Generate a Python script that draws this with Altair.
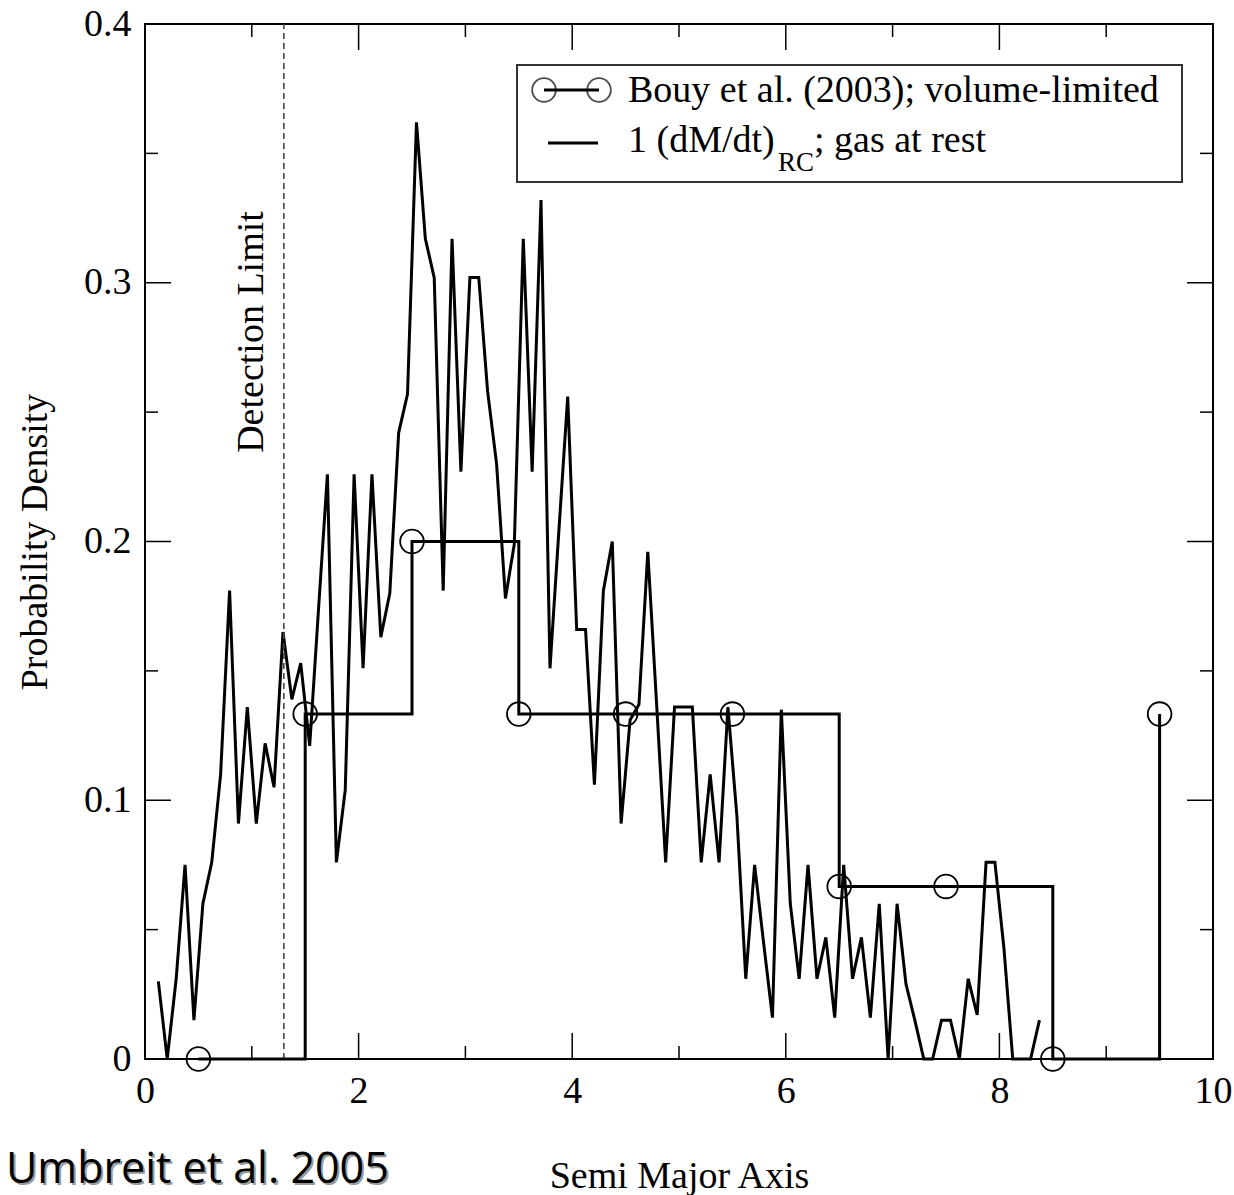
import altair as alt
import pandas as pd

# ---- data ----
MODEL_X = [0.125, 0.208, 0.292, 0.375, 0.458, 0.542, 0.625, 0.708, 0.792, 0.875,
           0.958, 1.042, 1.125, 1.208, 1.292, 1.375, 1.458, 1.542, 1.625, 1.708,
           1.792, 1.875, 1.958, 2.042, 2.125, 2.208, 2.292, 2.375, 2.458, 2.542,
           2.625, 2.708, 2.792, 2.875, 2.958, 3.042, 3.125, 3.208, 3.292, 3.375,
           3.458, 3.542, 3.625, 3.708, 3.792, 3.875, 3.958, 4.042, 4.125, 4.208,
           4.292, 4.375, 4.458, 4.542, 4.625, 4.708, 4.792, 4.875, 4.958, 5.042,
           5.125, 5.208, 5.292, 5.375, 5.458, 5.542, 5.625, 5.708, 5.792, 5.875,
           5.958, 6.042, 6.125, 6.208, 6.292, 6.375, 6.458, 6.542, 6.625, 6.708,
           6.792, 6.875, 6.958, 7.042, 7.125, 7.208, 7.292, 7.375, 7.458, 7.542,
           7.625, 7.708, 7.792, 7.875, 7.958, 8.042, 8.125, 8.208, 8.292, 8.375]
MODEL_Y = [0.030, 0.000, 0.031, 0.075, 0.015, 0.060, 0.076, 0.110, 0.181, 0.091,
           0.136, 0.091, 0.122, 0.105, 0.165, 0.139, 0.153, 0.121, 0.174, 0.226,
           0.076, 0.104, 0.226, 0.151, 0.226, 0.163, 0.180, 0.242, 0.257, 0.362,
           0.317, 0.302, 0.181, 0.317, 0.227, 0.302, 0.302, 0.258, 0.230, 0.178,
           0.199, 0.317, 0.227, 0.332, 0.151, 0.204, 0.256, 0.166, 0.166, 0.106,
           0.181, 0.200, 0.091, 0.131, 0.137, 0.196, 0.136, 0.076, 0.136, 0.136,
           0.136, 0.076, 0.110, 0.076, 0.136, 0.094, 0.031, 0.075, 0.045, 0.016,
           0.135, 0.060, 0.031, 0.075, 0.031, 0.047, 0.016, 0.075, 0.031, 0.047,
           0.016, 0.060, 0.000, 0.060, 0.029, 0.015, 0.000, 0.000, 0.015, 0.015,
           0.000, 0.031, 0.017, 0.076, 0.076, 0.043, 0.000, 0.000, 0.000, 0.015]

BOUY_X = [0.5, 1.5, 2.5, 3.5, 4.5, 5.5, 6.5, 7.5, 8.5, 9.5]
BOUY_Y = [0.0, 0.1333, 0.2, 0.1333, 0.1333, 0.1333, 0.0667, 0.0667, 0.0, 0.1333]

DETECTION_LIMIT = 1.3
X_MAJOR = [0, 2, 4, 6, 8, 10]
X_MINOR = [1, 3, 5, 7, 9]
Y_MAJOR = [0, 0.1, 0.2, 0.3, 0.4]
Y_MINOR = [0.05, 0.15, 0.25, 0.35]

LEGEND_1 = "Bouy et al. (2003); volume-limited"
LEGEND_2A = "1 (dM/dt)"
LEGEND_2SUB = "RC"
LEGEND_2B = "; gas at rest"
DET_LABEL = "Detection Limit"
CREDIT = "Umbreit et al. 2005"

# ---- layout / style ----
W, H = 1068, 1035
SERIF = "Liberation Serif"
FS = 38
MAJ, MIN = 26, 13

xs = alt.Scale(domain=[0, 10], nice=False, zero=False)
ys = alt.Scale(domain=[0, 0.4], nice=False, zero=False)

model = pd.DataFrame({"x": MODEL_X, "y": MODEL_Y})
bouy = pd.DataFrame({"x": BOUY_X, "y": BOUY_Y})
one = pd.DataFrame({"d": [0]})

x_axis = alt.Axis(values=X_MAJOR, title="Semi Major Axis", ticks=False, domain=False,
                  grid=False, labelFont=SERIF, labelFontSize=FS, labelColor="black",
                  labelPadding=13, labelFlush=False, labelOverlap=False,
                  titleFont=SERIF, titleFontSize=FS, titleFontWeight="normal",
                  titleColor="black", titleX=W / 2, titleY=117,
                  titleBaseline="middle", titleAlign="center")
y_axis = alt.Axis(values=Y_MAJOR, title="Probability Density", ticks=False, domain=False,
                  grid=False, labelFont=SERIF, labelFontSize=FS, labelColor="black",
                  labelPadding=14, labelFlush=False, labelOverlap=False,
                  labelExpr="datum.value == 0 ? '0' : format(datum.value, '.1f')",
                  titleFont=SERIF, titleFontSize=FS, titleFontWeight="normal",
                  titleColor="black", titleX=-110, titleY=H / 2, titleAngle=270,
                  titleBaseline="middle", titleAlign="center")


def X(field):
    return alt.X(field, scale=xs, axis=x_axis)


def Y(field):
    return alt.Y(field, scale=ys, axis=y_axis)


line = alt.Chart(model).mark_line(color="black", strokeWidth=3, strokeJoin="miter").encode(
    x=X("x:Q"), y=Y("y:Q"))

step = alt.Chart(bouy).mark_line(color="black", strokeWidth=3, interpolate="step-after").encode(
    x=X("x:Q"), y=Y("y:Q"))
circles = alt.Chart(bouy).mark_point(shape="circle", filled=False, size=560,
                                     stroke="black", strokeWidth=1.8, opacity=1).encode(
    x=X("x:Q"), y=Y("y:Q"))

det = alt.Chart(one).mark_rule(color="#444", strokeWidth=1.6, strokeDash=[6, 4]).encode(
    x=alt.XDatum(DETECTION_LIMIT, scale=xs, axis=x_axis),
    y=alt.YDatum(0, scale=ys, axis=y_axis),
    y2=alt.Y2Datum(0.4),
)


def xticks(vals, edge, length):
    return alt.Chart(pd.DataFrame({"v": vals})).mark_rule(
        color="black", strokeWidth=1.5, y2Offset=(-length if edge == 0 else length)
    ).encode(
        x=X("v:Q"),
        y=alt.YDatum(edge, scale=ys, axis=y_axis),
        y2=alt.Y2Datum(edge),
    )


def yticks(vals, edge, length):
    return alt.Chart(pd.DataFrame({"v": vals})).mark_rule(
        color="black", strokeWidth=1.5, x2Offset=(length if edge == 0 else -length)
    ).encode(
        y=Y("v:Q"),
        x=alt.XDatum(edge, scale=xs, axis=x_axis),
        x2=alt.X2Datum(edge),
    )


ticks = [
    xticks(X_MAJOR, 0, MAJ), xticks(X_MINOR, 0, MIN),
    xticks(X_MAJOR, 0.4, MAJ), xticks(X_MINOR, 0.4, MIN),
    yticks(Y_MAJOR, 0, MAJ), yticks(Y_MINOR, 0, MIN),
    yticks(Y_MAJOR, 10, MAJ), yticks(Y_MINOR, 10, MIN),
]


def txt(s, x, y, size=FS, font=SERIF, angle=0, align="left", color="black"):
    return alt.Chart(one).mark_text(text=s, font=font, fontSize=size, angle=angle,
                                    align=align, baseline="middle", color=color).encode(
        x=alt.value(x), y=alt.value(y))


# legend box (built by hand for the subscript)
legend_box = alt.Chart(one).mark_rect(fill="white", stroke="#333", strokeWidth=2).encode(
    x=alt.value(372), x2=alt.value(1037), y=alt.value(41), y2=alt.value(158))
leg_line1 = alt.Chart(one).mark_rule(color="black", strokeWidth=3).encode(
    x=alt.value(399), x2=alt.value(454), y=alt.value(66))
leg_c1 = alt.Chart(one).mark_point(shape="circle", filled=False, size=560, stroke="black",
                                   strokeWidth=1.8).encode(x=alt.value(399), y=alt.value(66))
leg_c2 = alt.Chart(one).mark_point(shape="circle", filled=False, size=560, stroke="black",
                                   strokeWidth=1.8).encode(x=alt.value(454), y=alt.value(66))
leg_line2 = alt.Chart(one).mark_rule(color="black", strokeWidth=3).encode(
    x=alt.value(403), x2=alt.value(453), y=alt.value(119))

legend = [
    legend_box, leg_line1, leg_c1, leg_c2, leg_line2,
    txt(LEGEND_1, 483, 67),
    txt(LEGEND_2A, 483, 117),
    txt(LEGEND_2SUB, 633, 139, size=27),
    txt(LEGEND_2B, 669, 117),
]

annotations = [
    txt(DET_LABEL, 107, 308, angle=270, align="center"),
    txt(CREDIT, -137, 1148, size=43, font="Open Sans", color="#9a9a9a"),
    txt(CREDIT, -139, 1146, size=43, font="Open Sans"),
]

chart = alt.layer(
    line, det, step, circles, *ticks, *legend, *annotations
).properties(
    width=W, height=H,
    autosize=alt.AutoSizeParams(type="none"),
    padding={"left": 145, "top": 24, "right": 21, "bottom": 136},
    background="white",
).configure_view(stroke="black", strokeWidth=2)

chart.save("out.html", embed_options={"renderer": "svg", "actions": False})
